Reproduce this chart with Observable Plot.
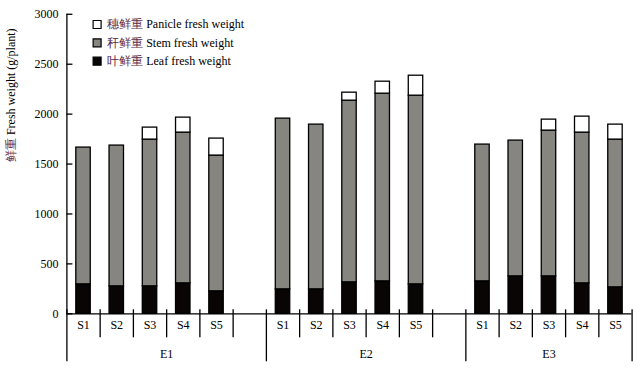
<!DOCTYPE html>
<html><head><meta charset="utf-8">
<script src="https://cdn.jsdelivr.net/npm/d3@7"></script>
<script src="https://cdn.jsdelivr.net/npm/@observablehq/plot@0.6"></script>
<style>body{margin:0;background:#fff} #chart svg{display:block}</style>
</head><body><div id="chart"></div>
<script>
// ---- data ----
const environments = ["E1", "E2", "E3"];
const stages = ["S1", "S2", "S3", "S4", "S5"];
const leaf    = [295, 275, 275, 305, 225,   245, 245, 315, 325, 295,   325, 375, 375, 305, 265];
const stem    = [1370, 1410, 1470, 1510, 1360,   1710, 1650, 1820, 1880, 1890,   1370, 1360, 1460, 1510, 1480];
const panicle = [0, 0, 120, 150, 170,   0, 0, 80, 120, 200,   0, 0, 110, 160, 150];
const yTicks = [0, 500, 1000, 1500, 2000, 2500, 3000];
const components = ["叶鲜重 Leaf fresh weight", "秆鲜重 Stem fresh weight", "穗鲜重 Panicle fresh weight"];
const componentColors = ["#0a0505", "#868580", "#ffffff"];
const yLabel = "鲜重 Fresh weight (g/plant)";

// ---- layout of slots: 5 stages + 1 empty slot per environment (last has none) ----
const slotsPerGroup = 6;
const totalSlots = environments.length * slotsPerGroup - 1;
const rows = [];
environments.forEach((e, g) => stages.forEach((s, i) => {
  const k = g * stages.length + i;
  const slot = g * slotsPerGroup + i;
  let base = 0;
  [leaf[k], stem[k], panicle[k]].forEach((v, c) => {
    if (v > 0) rows.push({env: e, stage: s, slot, component: components[c], y1: base, y2: base + v});
    base += v;
  });
}));
const stageCenters = new Map();
environments.forEach((e, g) => stages.forEach((s, i) => stageCenters.set(g * slotsPerGroup + i + 0.5, s)));
const groupBounds = environments.map((e, g) => g * slotsPerGroup).concat([totalSlots]);
const groupCenters = new Map(environments.map((e, g) => [(groupBounds[g] + groupBounds[g + 1]) / 2, e]));
const innerTicks = d3.range(1, totalSlots).filter(t => !groupBounds.includes(t));
const legendItems = components.slice().reverse();
const legendColors = componentColors.slice().reverse();

const legendMarks = legendItems.flatMap((item, j) => [
  Plot.dot([item], {frameAnchor: "top-left", dx: 30.2, dy: 10.2 + j * 18.35, symbol: "square", r: 4.5,
    fill: legendColors[j], stroke: "#000", strokeWidth: 1.2}),
  Plot.text([item], {frameAnchor: "top-left", lineAnchor: "middle", dx: 40.3, dy: 10.2 + j * 18.35, text: d => d,
    textAnchor: "start", fontSize: 12, fill: "#000"})
]);

const chart = Plot.plot({
  width: 641, height: 369,
  marginLeft: 66.4, marginRight: 9.4, marginTop: 13.8, marginBottom: 55.7,
  style: {fontFamily: "'Liberation Serif', 'Times New Roman', serif", fontSize: "12px", background: "#fff", color: "#000"},
  x: {type: "linear", domain: [0, totalSlots]},
  y: {domain: [0, 3000]},
  color: {domain: components, range: componentColors},
  marks: [
    Plot.rect(rows, {x1: "slot", x2: d => d.slot + 1, y1: "y1", y2: "y2", fill: "component",
      insetLeft: 9.4, insetRight: 9.4, stroke: "#000", strokeWidth: 1.3}),
    Plot.ruleX([0], {stroke: "#000", strokeWidth: 1.3}),
    Plot.ruleY([0], {stroke: "#000", strokeWidth: 1.3}),
    Plot.axisY({ticks: yTicks, tickSize: -6, tickPadding: 14.4, tickFormat: d => String(d), label: null, fontSize: 12, strokeWidth: 1.3, stroke: "#000", fill: "#000"}),
    Plot.axisX({ticks: innerTicks, tickSize: 28, dy: -4, tickFormat: () => "", label: null, strokeWidth: 1.3, stroke: "#000"}),
    Plot.axisX({ticks: groupBounds, tickSize: 52, dy: -4, tickFormat: () => "", label: null, strokeWidth: 1.3, stroke: "#000"}),
    Plot.axisX({ticks: [...stageCenters.keys()], tickSize: 0, tickPadding: 7, tickFormat: d => stageCenters.get(d), label: null, fontSize: 12, fill: "#000"}),
    Plot.axisX({ticks: [...groupCenters.keys()], tickSize: 0, tickPadding: 35.5, tickFormat: d => groupCenters.get(d), label: null, fontSize: 12, fill: "#000"}),
    Plot.text([yLabel], {frameAnchor: "left", dx: -55.4, dy: -2, rotate: -90, text: d => d, fontSize: 12, fill: "#000"}),
    ...legendMarks
  ]
});
document.getElementById("chart").appendChild(chart);

// colour the Chinese part of mixed labels
d3.select(chart).selectAll("text").each(function() {
  if (this.children.length) return;
  const t = this.textContent;
  const m = t.match(/^([\u4e00-\u9fff]+)(.*)$/);
  if (!m) return;
  const el = d3.select(this);
  el.text(null);
  el.append("tspan").attr("fill", "#5a2a48").text(m[1]);
  el.append("tspan").text(m[2]);
});
</script>
</body></html>
